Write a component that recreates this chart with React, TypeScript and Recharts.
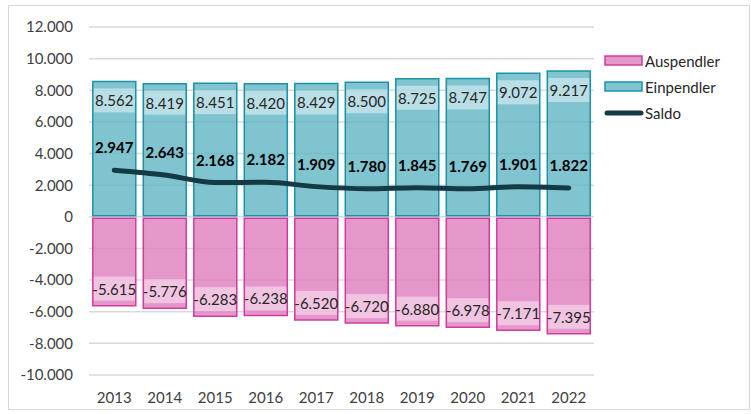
import { ComposedChart, Bar, Line, XAxis, YAxis, CartesianGrid, LabelList, Rectangle } from 'recharts'

const YEARS = ['2013', '2014', '2015', '2016', '2017', '2018', '2019', '2020', '2021', '2022']
const EINPENDLER = [8562, 8419, 8451, 8420, 8429, 8500, 8725, 8747, 9072, 9217]
const AUSPENDLER = [-5615, -5776, -6283, -6238, -6520, -6720, -6880, -6978, -7171, -7395]
const SALDO = [2947, 2643, 2168, 2182, 1909, 1780, 1845, 1769, 1901, 1822]
const Y_TICKS = [-10000, -8000, -6000, -4000, -2000, 0, 2000, 4000, 6000, 8000, 10000, 12000]

const FONT = 'Lato, "Open Sans", sans-serif'
const TEAL_FILL = '#60b5c4'
const TEAL_LINE = '#1a93a8'
const PINK_FILL = '#de7cbd'
const PINK_LINE = '#d13c9c'
const SALDO_COLOR = '#133a45'

// deutsches Tausendertrennzeichen
const fmt = (v: number) => {
  const s = Math.abs(v).toString().replace(/\B(?=(\d{3})+(?!\d))/g, '.')
  return v < 0 ? '-' + s : s
}

const data = YEARS.map((year, i) => ({
  year,
  ein: EINPENDLER[i],
  aus: AUSPENDLER[i],
  saldo: SALDO[i],
}))

// kleiner weißer Spalt an der Nulllinie
const EinShape = (props: any) => {
  const top = Math.min(props.y, props.y + props.height)
  const h = Math.abs(props.height)
  return <Rectangle {...props} y={top} height={Math.max(h - 1, 0)} />
}

const AusShape = (props: any) => {
  const top = Math.min(props.y, props.y + props.height)
  const h = Math.abs(props.height)
  return <Rectangle {...props} y={top + 1.5} height={Math.max(h - 1.5, 0)} />
}

const EinLabel = (props: any) => {
  const { x, y, width, height, value } = props
  const top = Math.min(y, y + height)
  const cy = top + 19
  return (
    <g>
      <rect x={x + 1} y={cy - 12} width={width - 2} height={24} fill="#fff" fillOpacity={0.45} />
      <text x={x + width / 2} y={cy} textAnchor="middle" dominantBaseline="central" fontSize={15} fill="#262626" fontFamily={FONT}>
        {fmt(value)}
      </text>
    </g>
  )
}

const AusLabel = (props: any) => {
  const { x, y, width, height, value } = props
  const bottom = Math.max(y, y + height)
  const cy = bottom - 17
  return (
    <g>
      <rect x={x + 1} y={cy - 12} width={width - 2} height={24} fill="#fff" fillOpacity={0.45} />
      <text x={x + width / 2} y={cy} textAnchor="middle" dominantBaseline="central" fontSize={15} fill="#262626" fontFamily={FONT}>
        {fmt(value)}
      </text>
    </g>
  )
}

const SaldoLabel = (props: any) => {
  const { x, y, value } = props
  return (
    <text x={x} y={y - 23} textAnchor="middle" dominantBaseline="central" fontSize={15} fontWeight="bold" fill="#000" fontFamily={FONT}>
      {fmt(value)}
    </text>
  )
}

const LEGEND_ITEMS = [
  { name: 'Auspendler', fill: PINK_FILL, stroke: PINK_LINE, type: 'rect' },
  { name: 'Einpendler', fill: TEAL_FILL, stroke: TEAL_LINE, type: 'rect' },
  { name: 'Saldo', fill: SALDO_COLOR, stroke: SALDO_COLOR, type: 'line' },
]

const LegendBox = () => (
  <div style={{ position: 'absolute', left: 604, top: 48, fontFamily: FONT, fontSize: 15, color: '#262626' }}>
    {LEGEND_ITEMS.map(it => (
      <div key={it.name} style={{ display: 'flex', alignItems: 'center', height: 26 }}>
        <svg width={40} height={12} style={{ marginRight: 1 }}>
          {it.type === 'rect' ? (
            <rect x={1} y={1} width={37} height={9} fill={it.fill} fillOpacity={0.8} stroke={it.stroke} strokeWidth={1.5} />
          ) : (
            <line x1={3} y1={6} x2={37} y2={6} stroke={it.stroke} strokeWidth={5} strokeLinecap="round" />
          )}
        </svg>
        <span>{it.name}</span>
      </div>
    ))}
  </div>
)

export default function App() {
  return (
    <div style={{ position: 'absolute', left: 0, top: 0, width: 751, height: 414, background: '#fff', fontFamily: FONT }}>
      <div style={{ position: 'absolute', left: 8, top: 5, width: 742, height: 405, border: '1px solid #d9d9d9', boxSizing: 'border-box' }} />
      <ComposedChart
        width={751}
        height={414}
        data={data}
        stackOffset="sign"
        margin={{ top: 27, right: 157, left: 0, bottom: 9 }}
        barCategoryGap="7.5%"
        style={{ position: 'absolute', left: 0, top: 0 }}
      >
        <CartesianGrid vertical={false} stroke="#d9d9d9" strokeWidth={1.5} />
        <XAxis
          dataKey="year"
          axisLine={false}
          tickLine={false}
          height={30}
          tickMargin={11}
          tick={{ fontSize: 15, fill: '#404040', fontFamily: FONT }}
        />
        <YAxis
          width={89}
          domain={[-10000, 12000]}
          ticks={Y_TICKS}
          axisLine={false}
          tickLine={false}
          tickMargin={10}
          tickFormatter={fmt}
          tick={{ fontSize: 15, fill: '#404040', fontFamily: FONT }}
        />
        <Bar dataKey="aus" name="Auspendler" stackId="s" fill={PINK_FILL} fillOpacity={0.8} stroke={PINK_LINE} strokeWidth={1.5} shape={<AusShape />} isAnimationActive={false}>
          <LabelList dataKey="aus" content={<AusLabel />} />
        </Bar>
        <Bar dataKey="ein" name="Einpendler" stackId="s" fill={TEAL_FILL} fillOpacity={0.8} stroke={TEAL_LINE} strokeWidth={1.5} shape={<EinShape />} isAnimationActive={false}>
          <LabelList dataKey="ein" content={<EinLabel />} />
        </Bar>
        <Line
          dataKey="saldo"
          name="Saldo"
          type="monotone"
          stroke={SALDO_COLOR}
          strokeWidth={5}
          strokeLinecap="round"
          dot={false}
          activeDot={false}
          isAnimationActive={false}
        >
          <LabelList dataKey="saldo" content={<SaldoLabel />} />
        </Line>
      </ComposedChart>
      <LegendBox />
    </div>
  )
}
